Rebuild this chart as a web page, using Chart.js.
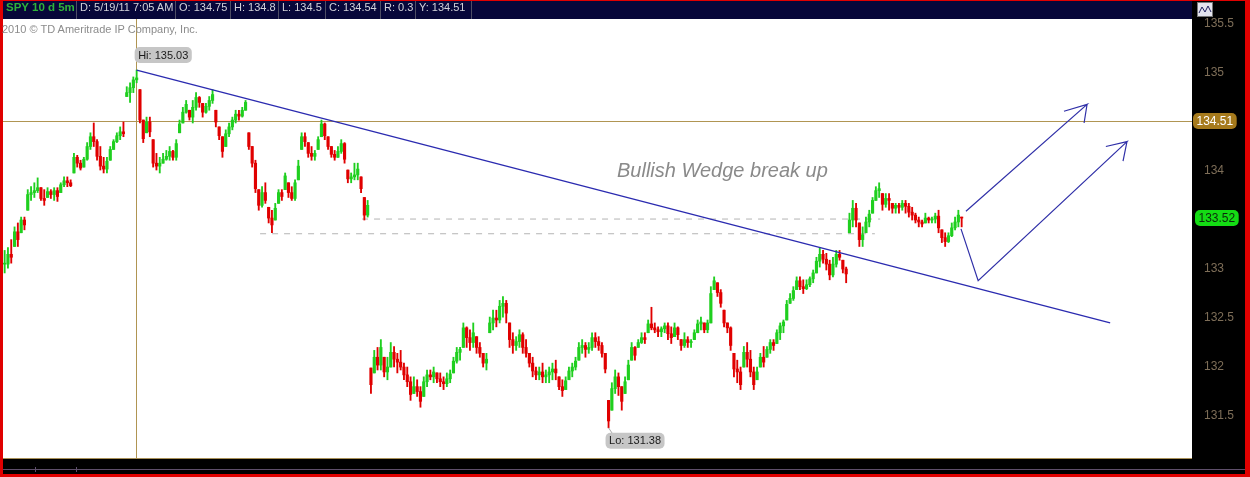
<!DOCTYPE html>
<html>
<head>
<meta charset="utf-8">
<script src="https://cdn.jsdelivr.net/npm/chart.js@4/dist/chart.umd.min.js"></script>
<style>
html, body { margin: 0; padding: 0; width: 1250px; height: 477px; overflow: hidden; background: #e00; }
#wrap { position: relative; width: 1250px; height: 477px; }
#c { position: absolute; left: 0; top: 0; }
.cell { position: absolute; top: 1px; height: 18px; line-height: 18px; font: 11px Arial, "Liberation Sans", sans-serif; color: #d2d2da; border-right: 1px solid #4e4e66; box-sizing: border-box; padding-left: 3px; white-space: nowrap; overflow: hidden; }
.sym { color: #2fb23a; font-weight: bold; font-size: 11.5px; }
#copy { position: absolute; left: 2px; top: 23px; font: 11px Arial, "Liberation Sans", sans-serif; color: #8c8c8c; }
#note { position: absolute; left: 617px; top: 159px; font: italic 20px Arial, "Liberation Sans", sans-serif; color: #8a8a8a; }
</style>
</head>
<body>
<div id="wrap">
  <canvas id="c" width="1250" height="477"></canvas>
  <div class="cell sym" style="left:3px;width:74px;">SPY 10 d 5m</div>
  <div class="cell" style="left:77px;width:99px;">D: 5/19/11 7:05 AM</div>
  <div class="cell" style="left:176px;width:55px;">O: 134.75</div>
  <div class="cell" style="left:231px;width:48px;">H: 134.8</div>
  <div class="cell" style="left:279px;width:47px;">L: 134.5</div>
  <div class="cell" style="left:326px;width:55px;">C: 134.54</div>
  <div class="cell" style="left:381px;width:35px;">R: 0.3</div>
  <div class="cell" style="left:416px;width:56px;">Y: 134.51</div>
  <div id="copy">2010 © TD Ameritrade IP Company, Inc.</div>
  <div id="note">Bullish Wedge break up</div>
</div>
<script>
// SPY 5 min bars (one bar per ~3.3px)
const highs = [
  133.19,133.22,133.30,133.43,133.47,133.53,133.53,133.81,133.84,133.88,
  133.93,133.83,133.81,133.83,133.81,133.83,133.83,133.88,133.94,133.94,
  133.91,134.18,134.16,134.11,134.14,134.29,134.39,134.49,134.32,134.25,
  134.14,134.14,134.25,134.32,134.39,134.45,134.50,134.86,134.90,134.96,
  135.03,134.83,134.52,134.55,134.55,134.32,134.18,134.14,134.18,134.21,
  134.25,134.21,134.32,134.52,134.65,134.72,134.62,
  134.72,134.80,134.76,134.69,134.69,134.76,134.83,134.62,134.45,134.35,
  134.42,134.49,134.55,134.62,134.62,134.65,134.72,134.39,134.25,134.11,
  133.81,133.84,133.88,133.63,133.60,133.67,133.81,133.81,133.98,133.88,
  133.84,133.91,134.11,134.39,134.39,134.29,134.25,134.21,134.35,134.52,
  134.49,134.35,134.25,134.21,134.25,134.32,134.29,134.01,133.98,134.08,
  134.08,133.94,133.73,133.70,
  131.99,132.17,132.20,132.28,132.10,132.10,132.25,132.21,132.14,132.17,
  132.04,132.00,131.90,131.90,131.87,131.80,131.90,131.97,131.97,132.00,
  131.94,131.94,131.90,131.94,131.97,132.10,132.20,132.20,132.45,132.41,
  132.38,132.45,132.31,132.25,132.14,132.14,132.51,132.58,132.58,132.68,
  132.72,132.68,132.45,132.35,132.31,132.38,132.35,132.28,132.14,132.10,
  132.00,132.00,132.04,131.97,132.00,132.04,132.07,131.90,131.87,131.90,
  132.00,132.04,132.10,132.25,132.28,132.25,132.25,132.35,132.35,132.31,
  132.25,132.14,131.66,131.84,131.97,131.94,131.80,
  131.90,132.07,132.25,132.21,132.28,132.35,132.35,132.48,132.61,132.45,
  132.41,132.41,132.45,132.45,132.41,132.45,132.41,132.28,132.35,132.31,
  132.28,132.38,132.48,132.51,132.45,132.48,132.82,132.92,132.86,132.79,
  132.58,132.45,132.41,132.14,132.07,132.00,132.21,132.25,132.17,132.00,
  132.00,132.14,132.21,132.21,132.28,132.28,132.38,132.45,132.48,132.68,
  132.75,132.82,132.92,132.92,132.89,132.89,132.92,132.99,133.12,133.22,
  133.19,133.16,133.09,133.12,133.19,133.19,133.09,133.02,133.57,133.70,
  133.67,133.47,133.43,133.53,133.60,133.73,133.84,133.88,133.77,133.77,
  133.77,133.67,133.67,133.67,133.70,133.70,133.67,133.63,133.57,133.53,
  133.50,133.57,133.53,133.53,133.57,133.60,133.40,133.37,133.37,133.47,
  133.53,133.60,133.53
];
const lows = [
  132.96,133.01,133.06,133.23,133.23,133.37,133.40,133.60,133.70,133.73,
  133.78,133.70,133.65,133.73,133.72,133.70,133.69,133.78,133.84,133.84,
  133.84,133.98,134.04,134.01,134.04,134.11,134.22,134.25,134.11,134.01,
  133.98,133.98,134.11,134.22,134.29,134.32,134.35,134.76,134.70,134.80,
  134.90,134.49,134.29,134.39,134.35,134.04,134.01,133.98,134.08,134.11,
  134.11,134.11,134.11,134.39,134.49,134.59,134.52,
  134.49,134.62,134.65,134.55,134.59,134.62,134.69,134.45,134.32,134.14,
  134.25,134.35,134.42,134.49,134.52,134.55,134.62,134.22,134.04,133.78,
  133.60,133.63,133.67,133.47,133.37,133.50,133.67,133.70,133.81,133.73,
  133.70,133.70,133.91,134.22,134.25,134.14,134.11,134.11,134.22,134.35,
  134.32,134.22,134.14,134.11,134.14,134.18,134.08,133.88,133.88,133.91,
  133.91,133.78,133.50,133.53,
  131.73,131.94,131.97,131.97,131.90,131.87,132.00,132.00,131.94,131.97,
  131.87,131.80,131.66,131.73,131.70,131.59,131.70,131.80,131.87,131.84,
  131.84,131.80,131.77,131.80,131.84,131.94,132.04,132.07,132.20,132.20,
  132.17,132.20,132.14,132.10,132.00,131.97,132.35,132.38,132.41,132.45,
  132.51,132.45,132.20,132.14,132.17,132.20,132.14,132.10,132.00,131.90,
  131.87,131.87,131.84,131.84,131.84,131.87,131.87,131.77,131.70,131.77,
  131.87,131.90,131.97,132.07,132.14,132.10,132.14,132.17,132.20,132.17,
  132.10,131.94,131.38,131.56,131.73,131.71,131.56,
  131.73,131.87,132.07,132.07,132.20,132.24,132.24,132.35,132.38,132.35,
  132.31,132.31,132.35,132.28,132.24,132.31,132.28,132.17,132.20,132.20,
  132.20,132.28,132.35,132.38,132.35,132.35,132.45,132.79,132.72,132.61,
  132.41,132.35,132.17,131.90,131.84,131.77,132.00,132.00,131.90,131.77,
  131.87,132.00,132.00,132.10,132.14,132.17,132.24,132.28,132.35,132.48,
  132.65,132.68,132.79,132.79,132.75,132.79,132.82,132.86,132.96,133.02,
  133.06,132.99,132.89,132.92,133.02,133.09,132.96,132.86,133.37,133.43,
  133.43,133.23,133.23,133.37,133.43,133.57,133.70,133.73,133.60,133.63,
  133.60,133.57,133.57,133.57,133.60,133.57,133.53,133.50,133.47,133.43,
  133.43,133.47,133.47,133.47,133.47,133.37,133.27,133.23,133.27,133.33,
  133.40,133.43,133.43
];
const closes = [
  133.05,133.15,133.12,133.38,133.30,133.50,133.45,133.76,133.78,133.80,
  133.83,133.72,133.70,133.79,133.76,133.80,133.74,133.86,133.90,133.88,
  133.85,134.14,134.08,134.03,134.12,134.25,134.35,134.30,134.15,134.05,
  134.02,134.10,134.22,134.30,134.36,134.40,134.38,134.80,134.85,134.93,
  134.95,134.52,134.33,134.50,134.40,134.08,134.05,134.08,134.12,134.15,
  134.20,134.14,134.28,134.48,134.60,134.68,134.55,
  134.65,134.75,134.70,134.60,134.66,134.72,134.78,134.50,134.36,134.20,
  134.38,134.45,134.52,134.58,134.56,134.62,134.70,134.25,134.08,133.82,
  133.65,133.78,133.70,133.52,133.45,133.62,133.78,133.74,133.95,133.78,
  133.72,133.88,134.05,134.35,134.30,134.18,134.15,134.18,134.32,134.48,
  134.36,134.25,134.17,134.14,134.20,134.28,134.12,133.92,133.94,133.96,
  134.02,133.82,133.55,133.65,
  131.82,132.10,132.02,132.20,131.95,132.00,132.15,132.08,132.05,132.00,
  131.92,131.85,131.72,131.80,131.75,131.65,131.85,131.92,131.90,131.95,
  131.88,131.85,131.83,131.88,131.93,132.06,132.15,132.18,132.40,132.30,
  132.25,132.35,132.20,132.14,132.04,132.08,132.45,132.50,132.48,132.62,
  132.65,132.55,132.28,132.22,132.26,132.33,132.20,132.14,132.04,131.96,
  131.92,131.95,131.90,131.92,131.95,131.98,131.94,131.80,131.76,131.86,
  131.96,132.00,132.06,132.20,132.22,132.18,132.20,132.30,132.26,132.22,
  132.14,131.98,131.45,131.78,131.90,131.80,131.65,
  131.85,132.02,132.20,132.12,132.25,132.30,132.28,132.44,132.40,132.38,
  132.36,132.39,132.42,132.34,132.30,132.40,132.33,132.22,132.28,132.25,
  132.26,132.35,132.44,132.46,132.38,132.45,132.75,132.88,132.76,132.65,
  132.45,132.40,132.22,131.98,131.95,131.82,132.15,132.08,131.95,131.82,
  131.95,132.10,132.05,132.18,132.25,132.22,132.35,132.42,132.46,132.64,
  132.70,132.78,132.88,132.82,132.80,132.84,132.90,132.96,133.08,133.15,
  133.10,133.05,132.94,133.05,133.15,133.12,133.00,132.95,133.50,133.62,
  133.50,133.30,133.35,133.48,133.56,133.70,133.80,133.82,133.66,133.72,
  133.70,133.62,133.65,133.63,133.67,133.64,133.58,133.55,133.50,133.48,
  133.46,133.52,133.50,133.51,133.54,133.42,133.32,133.28,133.34,133.42,
  133.48,133.55,133.52
];

// right axis labels (134.5 / 133.5 sit under the price tags)
const yTicks = [131.5, 132, 132.5, 133, 134, 135, 135.5];
const crossPrice = 134.51;
const crossIndex = 40;

// drawn lines, in bar index / price units
const trendLine = [{ x: 40, y: 135.03 }, { x: 335, y: 132.45 }];
const supportHigh = [{ x: 108.3, y: 133.51 }, { x: 265.3, y: 133.51 }];
const supportLow = [{ x: 77.4, y: 133.36 }, { x: 263.7, y: 133.36 }];
const arrowUp = [
  { x: 291.3, y: 133.59 }, { x: 328, y: 134.68 }, { x: 321, y: 134.61 },
  { x: 328, y: 134.68 }, { x: 327.1, y: 134.49 }
];
const arrowDip = [
  { x: 289.8, y: 133.41 }, { x: 295, y: 132.88 }, { x: 340.1, y: 134.30 },
  { x: 333.7, y: 134.25 }, { x: 340.1, y: 134.30 }, { x: 338.9, y: 134.10 }
];

const N = Math.min(highs.length, lows.length, closes.length);
const opens = closes.slice(0, N).map(function (c, i) {
  const prev = i ? closes[i - 1] : c;
  return Math.min(highs[i], Math.max(lows[i], prev));
});

const UP = "#1fcf1f";
const DOWN = "#e00000";
const barColors = opens.map(function (o, i) { return closes[i] >= o ? UP : DOWN; });

const wickData = opens.map(function (o, i) { return { x: i, y: [lows[i], highs[i]] }; });
const bodyData = opens.map(function (o, i) {
  return { x: i, y: [Math.min(o, closes[i]), Math.max(o, closes[i])] };
});

function roundRect(ctx, x, y, w, h, r) {
  ctx.beginPath();
  ctx.moveTo(x + r, y);
  ctx.arcTo(x + w, y, x + w, y + h, r);
  ctx.arcTo(x + w, y + h, x, y + h, r);
  ctx.arcTo(x, y + h, x, y, r);
  ctx.arcTo(x, y, x + w, y, r);
  ctx.closePath();
}

function tag(ctx, text, x, y, fill, color, size) {
  ctx.font = size + "px Arial, 'Liberation Sans', sans-serif";
  const w = ctx.measureText(text).width + 7;
  roundRect(ctx, x, y, w, 16, 5);
  ctx.fillStyle = fill;
  ctx.fill();
  ctx.fillStyle = color;
  ctx.textBaseline = "middle";
  ctx.textAlign = "left";
  ctx.fillText(text, x + 3.5, y + 8.5);
}

const frame = {
  id: "frame",
  beforeDraw(chart) {
    const ctx = chart.ctx, a = chart.chartArea;
    const W = chart.width, H = chart.height;
    ctx.save();
    ctx.fillStyle = "#e00000";
    ctx.fillRect(0, 0, W, H);
    ctx.fillStyle = "#000000";
    ctx.fillRect(3, 1, W - 8, H - 4);
    ctx.fillStyle = "#07073a";
    ctx.fillRect(3, 1, a.right - 3, a.top - 1);
    ctx.fillStyle = "#ffffff";
    ctx.fillRect(a.left, a.top, a.right - a.left, a.bottom - a.top);
    // bottom strip
    ctx.fillStyle = "#a89058";
    ctx.fillRect(a.left, a.bottom, a.right - a.left, 1);
    ctx.fillStyle = "#5e4e6a";
    ctx.fillRect(a.left, a.bottom + 11, W - 8, 1);
    ctx.fillRect(35, a.bottom + 9, 1, 5);
    ctx.fillRect(76, a.bottom + 9, 1, 5);
    // chart-style button at the top of the price axis
    ctx.fillStyle = "#e4e4ee";
    ctx.fillRect(a.right + 5, 2, 16, 15);
    ctx.strokeStyle = "#777";
    ctx.lineWidth = 1;
    ctx.strokeRect(a.right + 5.5, 2.5, 15, 14);
    ctx.strokeStyle = "#202060";
    ctx.beginPath();
    ctx.moveTo(a.right + 7, 13);
    ctx.lineTo(a.right + 10, 7);
    ctx.lineTo(a.right + 13, 12);
    ctx.lineTo(a.right + 16, 6);
    ctx.lineTo(a.right + 19, 12);
    ctx.stroke();
    ctx.restore();
  },
  beforeDatasetsDraw(chart) {
    const ctx = chart.ctx, a = chart.chartArea;
    const xs = chart.scales.x, ys = chart.scales.y;
    const cy = Math.round(ys.getPixelForValue(crossPrice));
    const cx = Math.round(xs.getPixelForValue(crossIndex)) - 1;
    ctx.save();
    ctx.fillStyle = "#b09552";
    ctx.fillRect(a.left, cy, a.right - a.left, 1);
    ctx.fillRect(cx, a.top, 1, a.bottom - a.top);
    ctx.restore();
  },
  afterDraw(chart) {
    const ctx = chart.ctx, a = chart.chartArea;
    const xs = chart.scales.x, ys = chart.scales.y;
    ctx.save();
    // Hi / Lo bubbles
    let hiIdx = 0, loIdx = 0;
    for (let i = 0; i < N; i++) {
      if (highs[i] > highs[hiIdx]) hiIdx = i;
      if (lows[i] < lows[loIdx]) loIdx = i;
    }
    const hx = xs.getPixelForValue(hiIdx), hy = ys.getPixelForValue(highs[hiIdx]);
    tag(ctx, "Hi: " + highs[hiIdx].toFixed(2), hx - 2, hy - 23, "#c6c6c6", "#1a1a1a", 11);
    const lx = xs.getPixelForValue(loIdx), ly = ys.getPixelForValue(lows[loIdx]);
    ctx.strokeStyle = "#aaaaaa";
    ctx.lineWidth = 1;
    ctx.beginPath();
    ctx.moveTo(lx, ly);
    ctx.lineTo(lx + 4, ly + 6);
    ctx.stroke();
    tag(ctx, "Lo: " + lows[loIdx].toFixed(2), lx - 3, ly + 5, "#c6c6c6", "#1a1a1a", 11);
    // price tags on the axis
    const last = closes[N - 1];
    tag(ctx, crossPrice.toFixed(2), a.right + 1, ys.getPixelForValue(crossPrice) - 8, "#a67a1c", "#ffffff", 12);
    tag(ctx, last.toFixed(2), a.right + 3, ys.getPixelForValue(last) - 8, "#14dc14", "#0c2a0c", 12);
    ctx.restore();
  }
};

function lineSet(points, color, width, dash, order) {
  return {
    type: "line",
    data: points,
    borderColor: color,
    borderWidth: width,
    borderDash: dash,
    pointRadius: 0,
    fill: false,
    tension: 0,
    order: order
  };
}

new Chart(document.getElementById("c"), {
  type: "bar",
  data: {
    datasets: [
      lineSet(supportHigh, "#b4b4b4", 1, [6, 6], 5),
      lineSet(supportLow, "#b4b4b4", 1, [6, 6], 5),
      {
        type: "bar",
        data: wickData,
        backgroundColor: barColors,
        barThickness: 1.2,
        grouped: false,
        order: 4
      },
      {
        type: "bar",
        data: bodyData,
        backgroundColor: barColors,
        barThickness: 2.5,
        minBarLength: 1,
        grouped: false,
        order: 3
      },
      lineSet(trendLine, "#2b2bb0", 1.4, [], 1),
      lineSet(arrowUp, "#3030a8", 1.2, [], 0),
      lineSet(arrowDip, "#3030a8", 1.2, [], 0)
    ]
  },
  options: {
    responsive: false,
    animation: false,
    events: [],
    layout: { padding: { left: 3, top: 19, right: 5, bottom: 19 } },
    plugins: {
      legend: { display: false },
      tooltip: { enabled: false }
    },
    scales: {
      x: {
        type: "linear",
        display: false,
        offset: false,
        bounds: "data",
        grid: { offset: false },
        min: -0.5,
        max: 359.8
      },
      y: {
        type: "linear",
        position: "right",
        min: 131.072,
        max: 135.551,
        afterBuildTicks: function (s) {
          s.ticks = yTicks.map(function (v) { return { value: v }; });
        },
        afterFit: function (s) { s.width = 53; },
        grid: { display: false },
        border: { display: false },
        ticks: {
          color: "#7e6e58",
          padding: 4,
          font: { family: "Arial, 'Liberation Sans', sans-serif", size: 12 },
          callback: function (v) { return String(v); }
        }
      }
    }
  },
  plugins: [frame]
});
</script>
</body>
</html>
